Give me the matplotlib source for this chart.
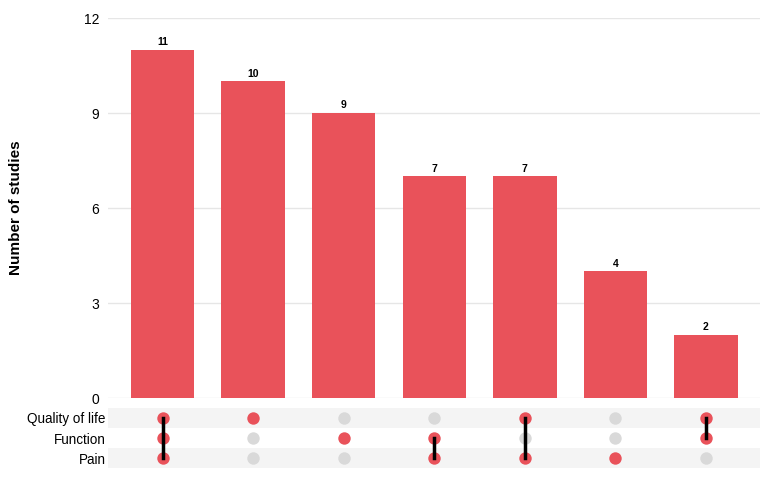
import matplotlib.pyplot as plt

plt.rcParams['font.family'] = ['Liberation Sans', 'DejaVu Sans']

# data
sets = ["Quality of life", "Function", "Pain"]
counts = [11, 10, 9, 7, 7, 4, 2]
# membership per bar, in order of sets
members = [
    [1, 1, 1],
    [1, 0, 0],
    [0, 1, 0],
    [0, 1, 1],
    [1, 0, 1],
    [0, 0, 1],
    [1, 1, 0],
]
yticks = [0, 3, 6, 9, 12]

red = "#E9525A"
grey_dot = "#D9D9D9"

fig = plt.figure(figsize=(7.68, 4.8), dpi=100)
ax = fig.add_axes([0.141, 0.1708, 0.849, 0.7917])
axm = fig.add_axes([0.141, 0.025, 0.849, 0.125])

x = list(range(len(counts)))
ax.bar(x, counts, width=0.7, color=red, zorder=2)
for xi, c in zip(x, counts):
    ax.text(xi, c + 0.08, str(c), ha="center", va="bottom", fontsize=7.5, fontweight="bold")

ax.set_xlim(-0.6, len(counts) - 0.4)
ax.set_ylim(0, 12)
ax.set_yticks(yticks)
ax.set_xticks([])
ax.grid(axis="y", color="#E6E6E6", linewidth=1, zorder=0)
for s in ax.spines.values():
    s.set_visible(False)
ax.tick_params(axis="y", length=0, labelsize=10, pad=6.5)
ax.set_ylabel("Number of studies", fontsize=11, fontweight="bold", labelpad=44)

# matrix
nrows = len(sets)
for i in range(nrows):
    ypos = nrows - 1 - i
    if i % 2 == 0:
        axm.axhspan(ypos - 0.5, ypos + 0.5, color="#F4F4F4", zorder=0, linewidth=0)
for xi, m in enumerate(members):
    ys_on = [nrows - 1 - i for i in range(nrows) if m[i]]
    for i in range(nrows):
        ypos = nrows - 1 - i
        axm.scatter(xi, ypos, s=80, color=red if m[i] else grey_dot, zorder=2, linewidths=0)
    if len(ys_on) > 1:
        axm.plot([xi, xi], [min(ys_on), max(ys_on)], color="black", linewidth=2.5, zorder=3)

axm.set_xlim(-0.6, len(counts) - 0.4)
axm.set_ylim(-0.5, nrows - 0.5)
axm.set_yticks([nrows - 1 - i for i in range(nrows)])
axm.set_yticklabels(sets)
axm.set_xticks([])
axm.tick_params(axis="y", length=0, labelsize=9.75, pad=2)
for s in axm.spines.values():
    s.set_visible(False)

fig.savefig("out.png", dpi=100)
